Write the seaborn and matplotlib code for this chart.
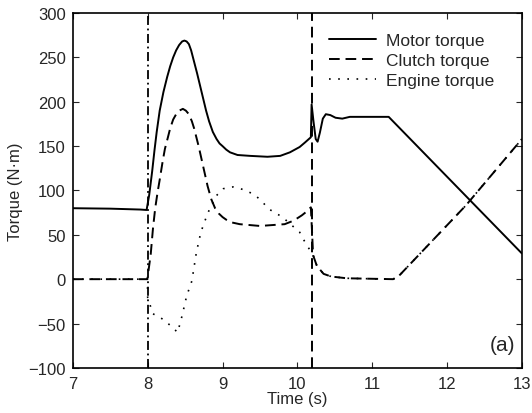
import numpy as np
import pandas as pd
import matplotlib
matplotlib.use("Agg")
import matplotlib.pyplot as plt
import seaborn as sns

# ---- data ----
motor_t = [7.0, 7.5, 7.9, 7.985, 8.02, 8.06, 8.09, 8.12, 8.16, 8.21, 8.26, 8.30, 8.34,
           8.38, 8.42, 8.46, 8.49, 8.52, 8.55, 8.58, 8.62, 8.66, 8.70, 8.74, 8.78,
           8.82, 8.87, 8.92, 8.96, 9.0, 9.05, 9.1, 9.2, 9.37, 9.6, 9.77, 9.9, 10.03,
           10.1, 10.18, 10.19, 10.215, 10.245, 10.27, 10.3, 10.34, 10.38, 10.44,
           10.51, 10.6, 10.7, 11.22, 13.0]
motor_v = [80, 79.5, 78.5, 78, 95, 122, 145, 166, 190, 211, 228, 240, 250,
           258, 264, 268, 269, 268, 265, 258, 245, 232, 218, 204, 190,
           178, 166, 158, 153, 150, 146, 143, 140, 139, 138, 139, 143, 149,
           154, 160, 197, 178, 158, 155, 165, 181, 186, 185,
           182, 181, 183, 183, 29]

clutch_t = [7.0, 7.995, 8.04, 8.07, 8.10, 8.13, 8.16, 8.20, 8.23, 8.27, 8.30, 8.34,
            8.38, 8.42, 8.47, 8.51, 8.55, 8.59, 8.62, 8.65, 8.68, 8.72, 8.76, 8.80,
            8.85, 8.90, 8.95, 9.0, 9.05, 9.12, 9.23, 9.5, 9.83, 9.95, 10.06, 10.12,
            10.18, 10.195, 10.21, 10.26, 10.35, 10.45, 10.66, 11.28, 11.36, 11.45,
            12.25, 13.0]
clutch_v = [0, 0, 28, 57, 80, 97, 112, 133, 147, 160, 170, 180,
            186, 190, 192, 190, 186, 178, 170, 160, 150, 135, 120, 105,
            90, 80, 74, 70, 67, 64, 62, 60, 62, 66, 72, 76,
            81, 55, 27, 15, 6, 3, 1, 0, 4, 12,
            83, 158]

engine_t = [7.0, 7.995, 8.0, 8.07, 8.2, 8.3, 8.4, 8.46, 8.52, 8.59, 8.65, 8.71,
            8.80, 8.91, 9.01, 9.14, 9.28, 9.41, 9.5, 9.62, 9.8, 10.03, 10.1,
            10.21, 10.26, 10.35, 10.45, 10.66, 11.28, 11.36, 11.45, 12.25, 13.0]
engine_v = [0, 0, -21, -39, -45, -52, -60, -41, -19, -2, 30, 53,
            74, 93.5, 102, 104, 101, 96, 90, 79, 70, 53, 42,
            27, 15, 6, 3, 1, 0, 4, 12, 83, 158]

switch_times = [8.0, 10.2]
x_ticks = [7, 8, 9, 10, 11, 12, 13]
y_ticks = [-100, -50, 0, 50, 100, 150, 200, 250, 300]

sns.set_style("ticks")
plt.rcParams['font.family'] = ['Liberation Sans', 'DejaVu Sans']
plt.rcParams['xtick.direction'] = 'in'
plt.rcParams['ytick.direction'] = 'in'

fig = plt.figure(figsize=(5.32, 4.14), dpi=100)
ax = fig.add_axes([0.137, 0.109, 0.844, 0.857])

fs = 12
sns.lineplot(x=motor_t, y=motor_v, ax=ax, color='black', lw=1.4,
             linestyle='-', label='Motor torque', estimator=None, sort=False)
sns.lineplot(x=clutch_t, y=clutch_v, ax=ax, color='black', lw=1.4,
             linestyle=(0, (5.5, 3)), label='Clutch torque', estimator=None, sort=False)
sns.lineplot(x=engine_t, y=engine_v, ax=ax, color='black', lw=1.2,
             linestyle=(0, (1, 4.5)), label='Engine torque', estimator=None, sort=False)

ax.axvline(switch_times[0], color='black', lw=1.3, linestyle=(0, (5, 2, 1, 2)))
ax.axvline(switch_times[1], color='black', lw=1.4, linestyle=(0, (5.5, 3)))

ax.set_xlim(7, 13)
ax.set_ylim(-100, 300)
ax.set_xticks(x_ticks)
ax.set_yticks(y_ticks)
ax.tick_params(axis='both', labelsize=fs, length=4, width=0.8,
               top=True, right=True)
ax.tick_params(axis='x', pad=6)
ax.tick_params(axis='y', pad=5)
for s in ax.spines.values():
    s.set_linewidth(1.2)
    s.set_color('black')

ax.set_xlabel('Time (s)', fontsize=fs, labelpad=0)
ax.set_ylabel('Torque (N·m)', fontsize=fs, labelpad=4)

leg = ax.legend(loc='upper right', bbox_to_anchor=(0.955, 0.965), frameon=False,
                fontsize=12.5, handlelength=2.7, labelspacing=0.3, borderaxespad=0,
                handletextpad=0.6)

ax.text(0.985, 0.04, '(a)', transform=ax.transAxes, ha='right', va='bottom',
        fontsize=15)

fig.savefig('out.png', dpi=100)
